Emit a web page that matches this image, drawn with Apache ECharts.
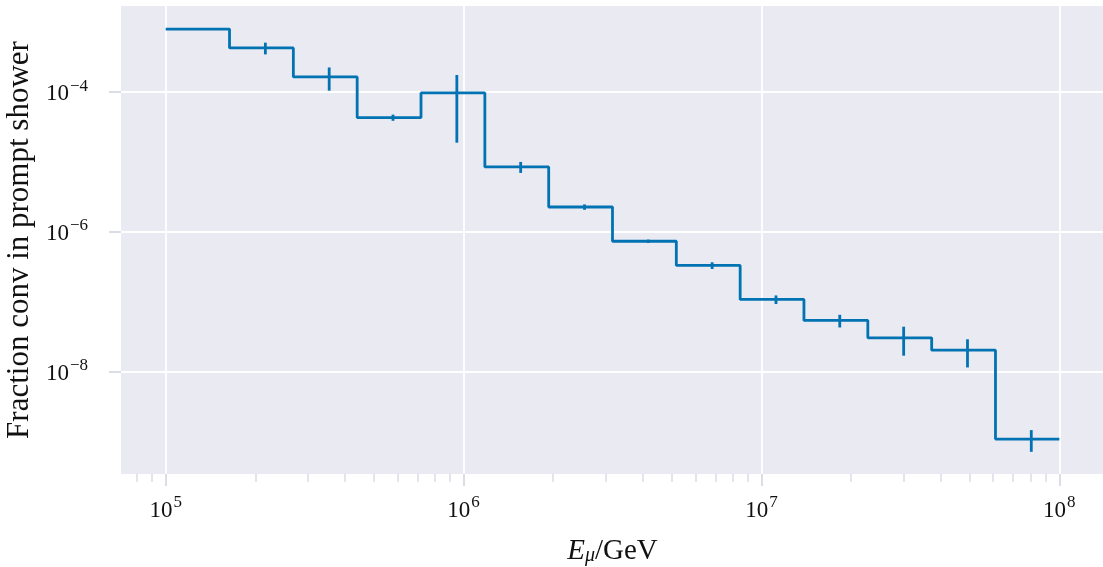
<!DOCTYPE html>
<html>
<head>
<meta charset="utf-8">
<script src="https://cdn.jsdelivr.net/npm/echarts@6/dist/echarts.min.js"></script>
<style>
  html, body { margin: 0; padding: 0; background: #fff; }
  #main { width: 1103px; height: 567px; }
</style>
</head>
<body>
<div id="main"></div>
<script>
// bin edges (GeV) and the error-bar positions
var binEdges = [1e5, 1.638e5, 2.683e5, 4.394e5, 7.197e5, 1.179e6, 1.931e6, 3.162e6,
                5.179e6, 8.483e6, 1.389e7, 2.276e7, 3.728e7, 6.105e7, 1e8];
var binCenters = [1.319e5, 2.161e5, 3.539e5, 5.796e5, 9.494e5, 1.555e6, 2.547e6,
                  4.171e6, 6.831e6, 1.119e7, 1.832e7, 3.002e7, 4.917e7, 8.052e7];
// fraction conv in prompt shower, one per bin, and its uncertainty
var fraction = [7.83e-4, 4.20e-4, 1.62e-4, 4.25e-5, 9.56e-5, 8.37e-6, 2.24e-6,
                7.26e-7, 3.27e-7, 1.07e-7, 5.35e-8, 3.02e-8, 2.01e-8, 1.08e-9];
var fractionErr = [1.5e-5, 8e-5, 5.9e-5, 4.3e-6, 7.7e-5, 1.5e-6, 2.0e-7,
                   4e-8, 3.6e-8, 1.5e-8, 1.1e-8, 1.34e-8, 8.7e-9, 3.7e-10];

// ticks
var xMajorTicks = [1e5, 1e6, 1e7, 1e8];
var xMinorTicks = [8e4, 9e4,
  2e5, 3e5, 4e5, 5e5, 6e5, 7e5, 8e5, 9e5,
  2e6, 3e6, 4e6, 5e6, 6e6, 7e6, 8e6, 9e6,
  2e7, 3e7, 4e7, 5e7, 6e7, 7e7, 8e7, 9e7];
var yMajorTicks = [1e-8, 1e-6, 1e-4];

var xMin = 70795, xMax = 1.4125e8;
var yMin = 3.42e-10, yMax = 1.671e-3;

var blue = '#0173b2';
var font = 'Liberation Serif';

var stepData = binEdges.map(function (e, i) {
  return [e, fraction[Math.min(i, fraction.length - 1)]];
});
var errData = binCenters.map(function (c, i) {
  return [c, fraction[i], fractionErr[i]];
});

function powLabel(v) {
  var e = Math.round(Math.log10(v));
  return '{b|10}{s|' + String(e).replace('-', '\u2212') + '}';
}
var powRich = {
  b: { fontFamily: font, fontSize: 23, color: '#111', lineHeight: 28, verticalAlign: 'bottom' },
  s: { fontFamily: font, fontSize: 17, color: '#111', lineHeight: 28, verticalAlign: 'top', padding: [0, 0, 0, 1] }
};

var myChart = echarts.init(document.getElementById('main'));

var option = {
  animation: false,
  backgroundColor: '#fff',
  grid: {
    left: 121, top: 6, right: -1, bottom: 93,
    outerBoundsMode: 'none',
    containLabel: false,
    show: true, backgroundColor: '#eaeaf2', borderWidth: 0
  },
  xAxis: [
    {
      type: 'log', logBase: 10, min: xMin, max: xMax,
      name: '{i|E}{sub|\u03bc}{n|/GeV}',
      nameLocation: 'middle', nameGap: 58,
      nameTextStyle: {
        rich: {
          i: { fontFamily: font, fontStyle: 'italic', fontSize: 29, color: '#111', verticalAlign: 'bottom', lineHeight: 34 },
          sub: { fontFamily: font, fontStyle: 'italic', fontSize: 20, color: '#111', verticalAlign: 'bottom', lineHeight: 26 },
          n: { fontFamily: font, fontSize: 29, color: '#111', verticalAlign: 'bottom', lineHeight: 34 }
        }
      },
      axisLine: { show: false },
      axisTick: { show: true, length: 12, lineStyle: { color: '#dcdce6', width: 2 }, customValues: xMajorTicks },
      axisLabel: { margin: 20, fontSize: 23, fontFamily: font, customValues: xMajorTicks, formatter: powLabel, rich: powRich },
      splitLine: { show: true, lineStyle: { color: '#fff', width: 1.8 } },
      minorTick: { show: false }
    },
    {
      type: 'log', logBase: 10, min: xMin, max: xMax, position: 'bottom',
      axisLine: { show: false },
      axisTick: { show: true, length: 8, lineStyle: { color: '#dcdce6', width: 1.5 }, customValues: xMinorTicks },
      axisLabel: { show: false },
      splitLine: { show: false }
    }
  ],
  yAxis: {
    type: 'log', logBase: 10, min: yMin, max: yMax,
    name: 'Fraction conv in prompt shower',
    nameLocation: 'middle', nameGap: 83,
    nameTextStyle: { fontFamily: font, fontSize: 31, color: '#111' },
    axisLine: { show: false },
    axisTick: { show: true, length: 12, lineStyle: { color: '#dcdce6', width: 2 }, customValues: yMajorTicks },
    axisLabel: { margin: 33, fontSize: 23, fontFamily: font, customValues: yMajorTicks, formatter: powLabel, rich: powRich },
    splitLine: { show: true, lineStyle: { color: '#fff', width: 1.8 } }
  },
  series: [
    {
      type: 'line',
      step: 'end',
      data: stepData,
      showSymbol: false,
      lineStyle: { color: blue, width: 2.8 },
      itemStyle: { color: blue },
      z: 3
    },
    {
      type: 'custom',
      data: errData,
      renderItem: function (params, api) {
        var x = api.value(0), y = api.value(1), s = api.value(2);
        var top = api.coord([x, y + s]);
        var bot = api.coord([x, Math.max(y - s, yMin)]);
        return {
          type: 'line',
          shape: { x1: top[0], y1: top[1], x2: bot[0], y2: bot[1] },
          style: { stroke: blue, lineWidth: 2.8 }
        };
      },
      z: 4
    }
  ]
};

myChart.setOption(option);
</script>
</body>
</html>
